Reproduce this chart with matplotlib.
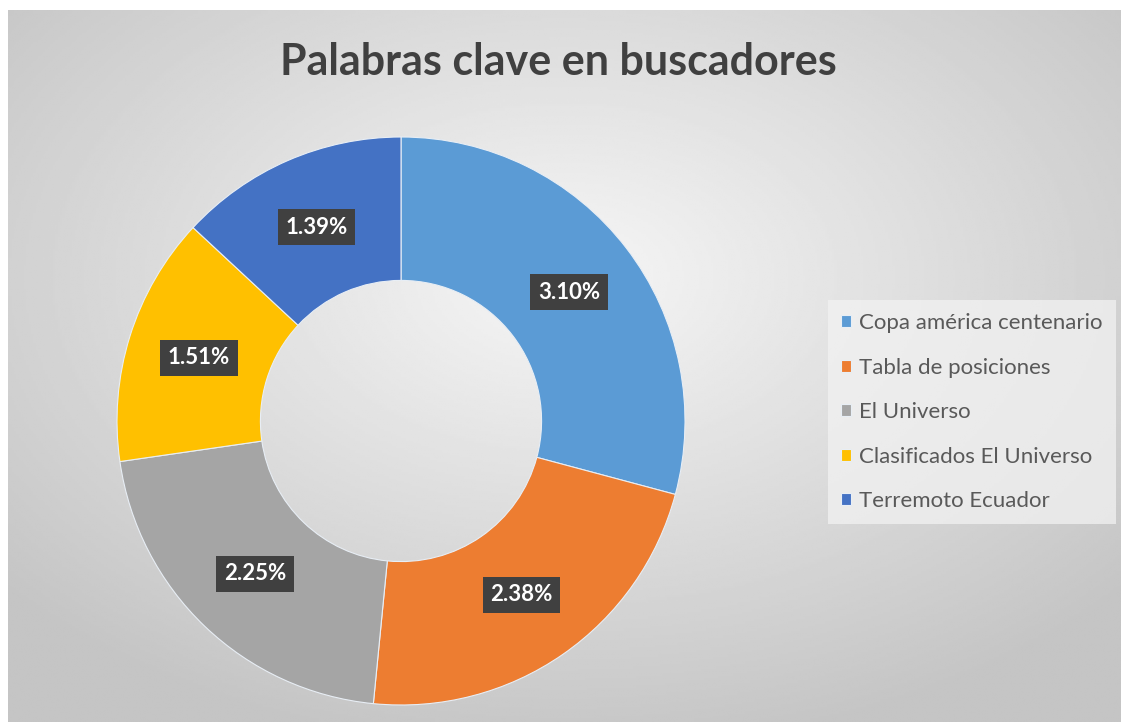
import numpy as np
import matplotlib
matplotlib.use('Agg')
import matplotlib.pyplot as plt

labels = ['Copa américa centenario', 'Tabla de posiciones', 'El Universo',
          'Clasificados El Universo', 'Terremoto Ecuador']
values = [3.10, 2.38, 2.25, 1.51, 1.39]
colors = ['#5B9BD5', '#ED7D31', '#A5A5A5', '#FFC000', '#4472C4']
title = 'Palabras clave en buscadores'

plt.rcParams['font.family'] = ['Lato', 'DejaVu Sans']

W, H = 1121, 722
fig = plt.figure(figsize=(W / 100, H / 100), dpi=100)
fig.patch.set_facecolor('white')

# background with radial gradient (chart area starts a few px in from top/left)
bg = fig.add_axes([8 / W, 0, (W - 8) / W, (H - 10) / H])
yy, xx = np.mgrid[-1:1:300j, -1:1:460j]
d = np.clip(np.sqrt(xx ** 2 + (yy + 0.25) ** 2) / 1.35, 0, 1)
c0, c1 = 0.965, 0.77
img = c0 + (c1 - c0) * d
bg.imshow(img, cmap='gray', vmin=0, vmax=1, aspect='auto', extent=[0, 1, 0, 1])
bg.axis('off')

# donut
cx, cy, r = 401, 421, 284
ax = fig.add_axes([(cx - r) / W, (H - cy - r) / H, 2 * r / W, 2 * r / H])
wedges, _ = ax.pie(values, colors=colors, startangle=90, counterclock=False,
                   radius=1, wedgeprops=dict(width=0.505, edgecolor='#e8eef5', linewidth=0.8))
ax.set_xlim(-1, 1)
ax.set_ylim(-1, 1)
ax.set_aspect('equal')
ax.axis('off')

total = sum(values)
ang = 90
for v in values:
    mid = np.deg2rad(ang - v / total * 360 / 2)
    ang -= v / total * 360
    rr = 0.745
    ax.text(rr * np.cos(mid), rr * np.sin(mid), f'{v:.2f}%', ha='center', va='center',
            color='white', fontsize=16, fontweight='bold',
            bbox=dict(boxstyle='square,pad=0.35', facecolor='#404040', edgecolor='none'))

fig.text(558 / W, 1 - 62 / H, title, ha='center', va='center', fontsize=31,
         fontweight='bold', color='#404040')

leg = fig.legend(wedges, labels, loc='upper left',
                 bbox_to_anchor=(828 / W, 1 - 300 / H), frameon=True,
                 fontsize=16, handlelength=0.45, handleheight=0.45, handletextpad=0.35,
                 labelspacing=1.1, borderpad=0.6, borderaxespad=0, fancybox=False,
                 labelcolor='#595959')
leg.get_frame().set_facecolor('#f2f2f2')
leg.get_frame().set_edgecolor('none')
leg.get_frame().set_alpha(0.75)

fig.savefig('out.png', dpi=100)
